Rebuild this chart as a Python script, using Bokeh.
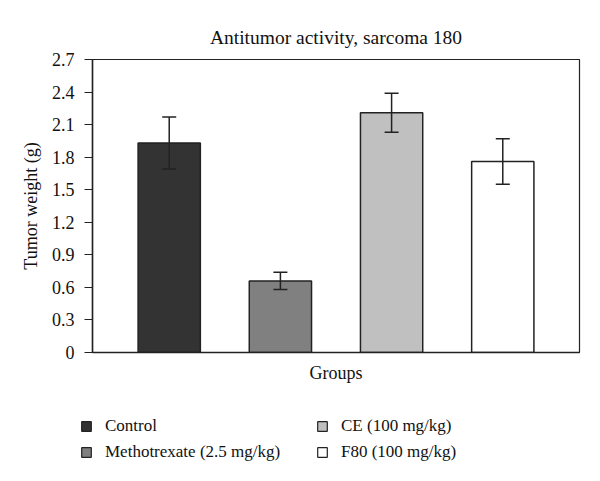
from bokeh.plotting import figure
from bokeh.layouts import column
from bokeh.models import ColumnDataSource, Whisker, Range1d, FixedTicker, Legend, LegendItem, TeeHead
from bokeh.embed import file_html
from bokeh.resources import INLINE

groups = ["Control", "Methotrexate (2.5 mg/kg)", "CE (100 mg/kg)", "F80 (100 mg/kg)"]
means = [1.93, 0.66, 2.21, 1.76]
err_low = [1.69, 0.58, 2.03, 1.55]
err_high = [2.17, 0.74, 2.39, 1.97]
colors = ["#333333", "#808080", "#c0c0c0", "#ffffff"]
y_ticks = [0, 0.3, 0.6, 0.9, 1.2, 1.5, 1.8, 2.1, 2.4, 2.7]

FONT = "Liberation Serif"
TXT = "#111111"
xs = list(range(len(groups)))

p = figure(width=584, height=392, output_backend="svg", toolbar_location=None,
           x_range=Range1d(-0.69, 3.69), y_range=Range1d(0, 2.7),
           min_border_left=92, min_border_right=5, min_border_top=59, min_border_bottom=40)
p.frame_align = False

p.title.text = "Antitumor activity, sarcoma 180"
p.title.align = "center"
p.title.text_font = FONT
p.title.text_font_size = "19.5px"
p.title.text_font_style = "normal"
p.title.text_color = TXT
p.title.standoff = 24

src = ColumnDataSource(dict(x=xs, top=means, lo=err_low, hi=err_high, color=colors, name=groups))
r = p.vbar(x="x", top="top", width=0.56, bottom=0, source=src, fill_color="color",
           line_color="#222222", line_width=1.5)

w = Whisker(base="x", upper="hi", lower="lo", source=src, line_color="#222222", line_width=1.5,
            upper_head=TeeHead(size=14, line_color="#222222", line_width=1.5),
            lower_head=TeeHead(size=14, line_color="#222222", line_width=1.5),
            level="overlay")
p.add_layout(w)

p.xgrid.visible = False
p.ygrid.visible = False
p.outline_line_color = "#222222"
p.outline_line_width = 1.2

p.yaxis.ticker = FixedTicker(ticks=y_ticks)
p.yaxis.major_label_overrides = {0: "0"}
p.yaxis.axis_label = "Tumor weight (g)"
p.yaxis.axis_label_text_font = FONT
p.yaxis.axis_label_text_font_style = "normal"
p.yaxis.axis_label_text_font_size = "18px"
p.yaxis.axis_label_text_color = TXT
p.yaxis.major_label_text_font = FONT
p.yaxis.major_label_text_font_size = "18px"
p.yaxis.major_label_text_color = TXT
p.yaxis.minor_tick_line_color = None
p.yaxis.major_tick_in = 0
p.yaxis.major_tick_out = 8
p.yaxis.axis_line_width = 1.5
p.yaxis.axis_line_color = "#222222"
p.yaxis.major_tick_line_color = "#222222"
p.yaxis.major_tick_line_width = 1.2
p.yaxis.major_label_standoff = 10
p.yaxis.axis_label_standoff = 8

p.xaxis.ticker = FixedTicker(ticks=[])
p.xaxis.major_label_text_font_size = "0px"
p.xaxis.axis_label = "Groups"
p.xaxis.axis_label_text_font = FONT
p.xaxis.axis_label_text_font_style = "normal"
p.xaxis.axis_label_text_font_size = "18px"
p.xaxis.axis_label_text_color = TXT
p.xaxis.axis_label_standoff = 10
p.xaxis.minor_tick_line_color = None
p.xaxis.major_tick_line_color = None
p.xaxis.axis_line_width = 1.5
p.xaxis.axis_line_color = "#222222"

# legend panel below the chart
p2 = figure(width=584, height=73, output_backend="svg", toolbar_location=None,
            x_range=Range1d(100, 101), y_range=Range1d(100, 101),
            min_border=0, outline_line_color=None)
p2.frame_align = False
p2.axis.visible = False
p2.grid.visible = False
r2 = p2.vbar(x="x", top="top", width=0.56, bottom=0, source=src, fill_color="color",
             line_color="#222222", line_width=1.2)

items = [LegendItem(label=groups[i], renderers=[r2], index=i) for i in range(len(groups))]
lg = Legend(items=items, location=(80, 3), orientation="vertical", nrows=2,
            label_text_font=FONT, label_text_font_size="17px", label_text_color=TXT,
            glyph_width=12, glyph_height=12, label_standoff=13, spacing=6,
            padding=0, margin=0, border_line_color=None, background_fill_alpha=0,
            label_height=20, label_width=205)
p2.add_layout(lg, "center")

layout = column(p, p2, spacing=0)
open("out.html", "w").write(file_html(layout, INLINE))
